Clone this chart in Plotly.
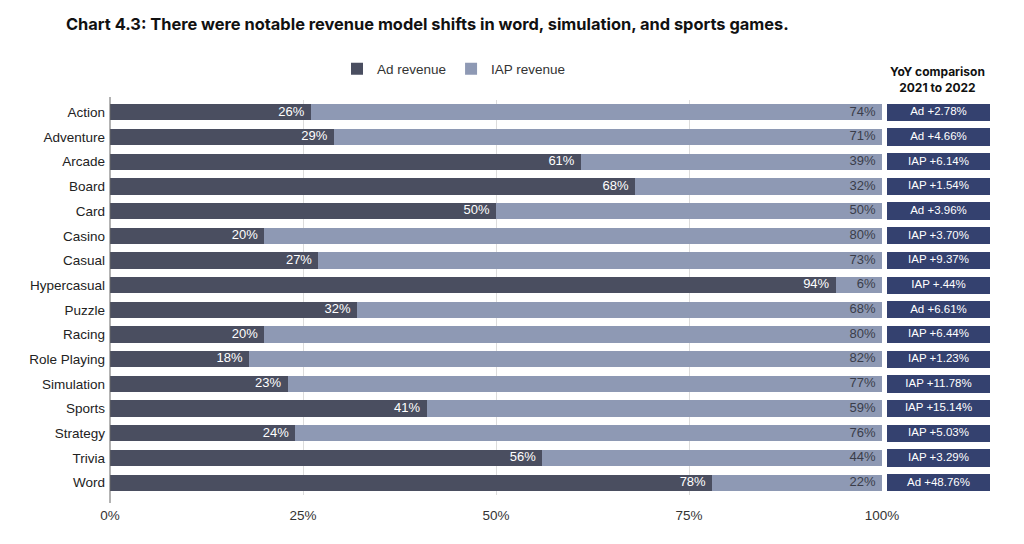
import plotly.graph_objects as go

categories = ["Action", "Adventure", "Arcade", "Board", "Card", "Casino", "Casual",
              "Hypercasual", "Puzzle", "Racing", "Role Playing", "Simulation",
              "Sports", "Strategy", "Trivia", "Word"]
ad_revenue = [26, 29, 61, 68, 50, 20, 27, 94, 32, 20, 18, 23, 41, 24, 56, 78]
iap_revenue = [74, 71, 39, 32, 50, 80, 73, 6, 68, 80, 82, 77, 59, 76, 44, 22]
yoy_labels = ["Ad +2.78%", "Ad +4.66%", "IAP +6.14%", "IAP +1.54%", "Ad +3.96%",
              "IAP +3.70%", "IAP +9.37%", "IAP +.44%", "Ad +6.61%", "IAP +6.44%",
              "IAP +1.23%", "IAP +11.78%", "IAP +15.14%", "IAP +5.03%", "IAP +3.29%",
              "Ad +48.76%"]
x_ticks = [0, 25, 50, 75, 100]
x_tick_labels = ["0%", "25%", "50%", "75%", "100%"]

AD_COLOR = "#4a4e60"
IAP_COLOR = "#8e99b4"
YOY_COLOR = "#34416f"
BODY_FONT = "Liberation Sans, Arial, sans-serif"

W, H = 1024, 544
ML, MR, MT, MB = 110, 0, 100, 49
PW = W - ML - MR
PH = H - MT - MB

fig = go.Figure()
fig.add_trace(go.Bar(
    y=categories, x=ad_revenue, orientation="h", name="Ad revenue",
    marker=dict(color=AD_COLOR, line=dict(width=0)),
    width=0.66, hoverinfo="skip",
))
fig.add_trace(go.Bar(
    y=categories, x=iap_revenue, orientation="h", name="IAP revenue",
    marker=dict(color=IAP_COLOR, line=dict(width=0)),
    width=0.66, hoverinfo="skip",
))
# value labels at the end of each segment
fig.add_trace(go.Scatter(
    y=categories, x=ad_revenue, mode="text", showlegend=False,
    text=[f"{v}%\u2002" for v in ad_revenue], textposition="middle left",
    textfont=dict(color="white", size=13, family=BODY_FONT), hoverinfo="skip",
))
fig.add_trace(go.Scatter(
    y=categories, x=[a + b for a, b in zip(ad_revenue, iap_revenue)], mode="text",
    showlegend=False,
    text=[f"{v}%\u2002" for v in iap_revenue], textposition="middle left",
    textfont=dict(color="#3a3d4a", size=13, family=BODY_FONT), hoverinfo="skip",
))
fig.add_trace(go.Bar(
    y=categories, x=[1] * len(categories), orientation="h", xaxis="x2",
    showlegend=False,
    marker=dict(color=YOY_COLOR, line=dict(width=0)),
    width=0.70, hoverinfo="skip",
))
fig.add_trace(go.Scatter(
    y=categories, x=[0.5] * len(categories), xaxis="x2", mode="text",
    showlegend=False, text=yoy_labels, textposition="middle center",
    textfont=dict(color="white", size=11.5, family=BODY_FONT), hoverinfo="skip",
))

fig.update_layout(
    width=W, height=H, autosize=False,
    barmode="stack", bargap=0.3,
    paper_bgcolor="white", plot_bgcolor="white",
    margin=dict(l=ML, r=MR, t=MT, b=MB, pad=0),
    font=dict(family=BODY_FONT, size=13, color="#222222"),
    title=dict(
        text="<b>Chart 4.3: There were notable revenue model shifts in word, simulation, and sports games.</b>",
        x=66 / W, xanchor="left", y=1 - 24 / H, yanchor="middle",
        font=dict(family="Inter, sans-serif", size=16.4, color="#111111"),
    ),
    legend=dict(
        orientation="h", x=(337 - ML) / PW, xref="paper", xanchor="left",
        y=1 + 31 / PH, yanchor="middle",
        font=dict(size=13.5, color="#333333", family=BODY_FONT),
        traceorder="normal", itemwidth=30,
        bgcolor="rgba(0,0,0,0)",
    ),
    xaxis=dict(
        domain=[0, 772 / PW], range=[0, 100],
        tickvals=x_ticks, ticktext=x_tick_labels,
        showgrid=True, gridcolor="#dcdcdc", gridwidth=1,
        zeroline=False, showline=False, ticks="", ticklabelstandoff=10,
        tickfont=dict(size=13.5, color="#333333"),
        fixedrange=True, automargin=False,
    ),
    xaxis2=dict(
        domain=[777 / PW, 880 / PW], range=[0, 1], anchor="y",
        showgrid=False, showticklabels=False, zeroline=False, showline=False,
        automargin=False,
    ),
    yaxis=dict(
        categoryorder="array", categoryarray=categories,
        autorange=False, range=[len(categories) - 0.5, -0.5],
        showline=False, automargin=False,
        ticks="", ticklabelstandoff=4,
        tickfont=dict(size=13.5, color="#222222"),
    ),
    shapes=[
        dict(type="line", xref="x domain", yref="paper", x0=0, x1=0,
             y0=-8 / PH, y1=1 + 3 / PH, line=dict(color="#666666", width=1)),
    ],
    annotations=[
        dict(
            text="<b>YoY comparison<br>2021 to 2022</b>",
            xref="paper", yref="paper",
            x=(937 - ML) / PW, y=1 + 20 / PH, xanchor="center", yanchor="middle",
            showarrow=False, align="center",
            font=dict(family="Inter, sans-serif", size=12, color="#111111"),
        )
    ],
)

fig.write_html("out.html", config={"responsive": False})
